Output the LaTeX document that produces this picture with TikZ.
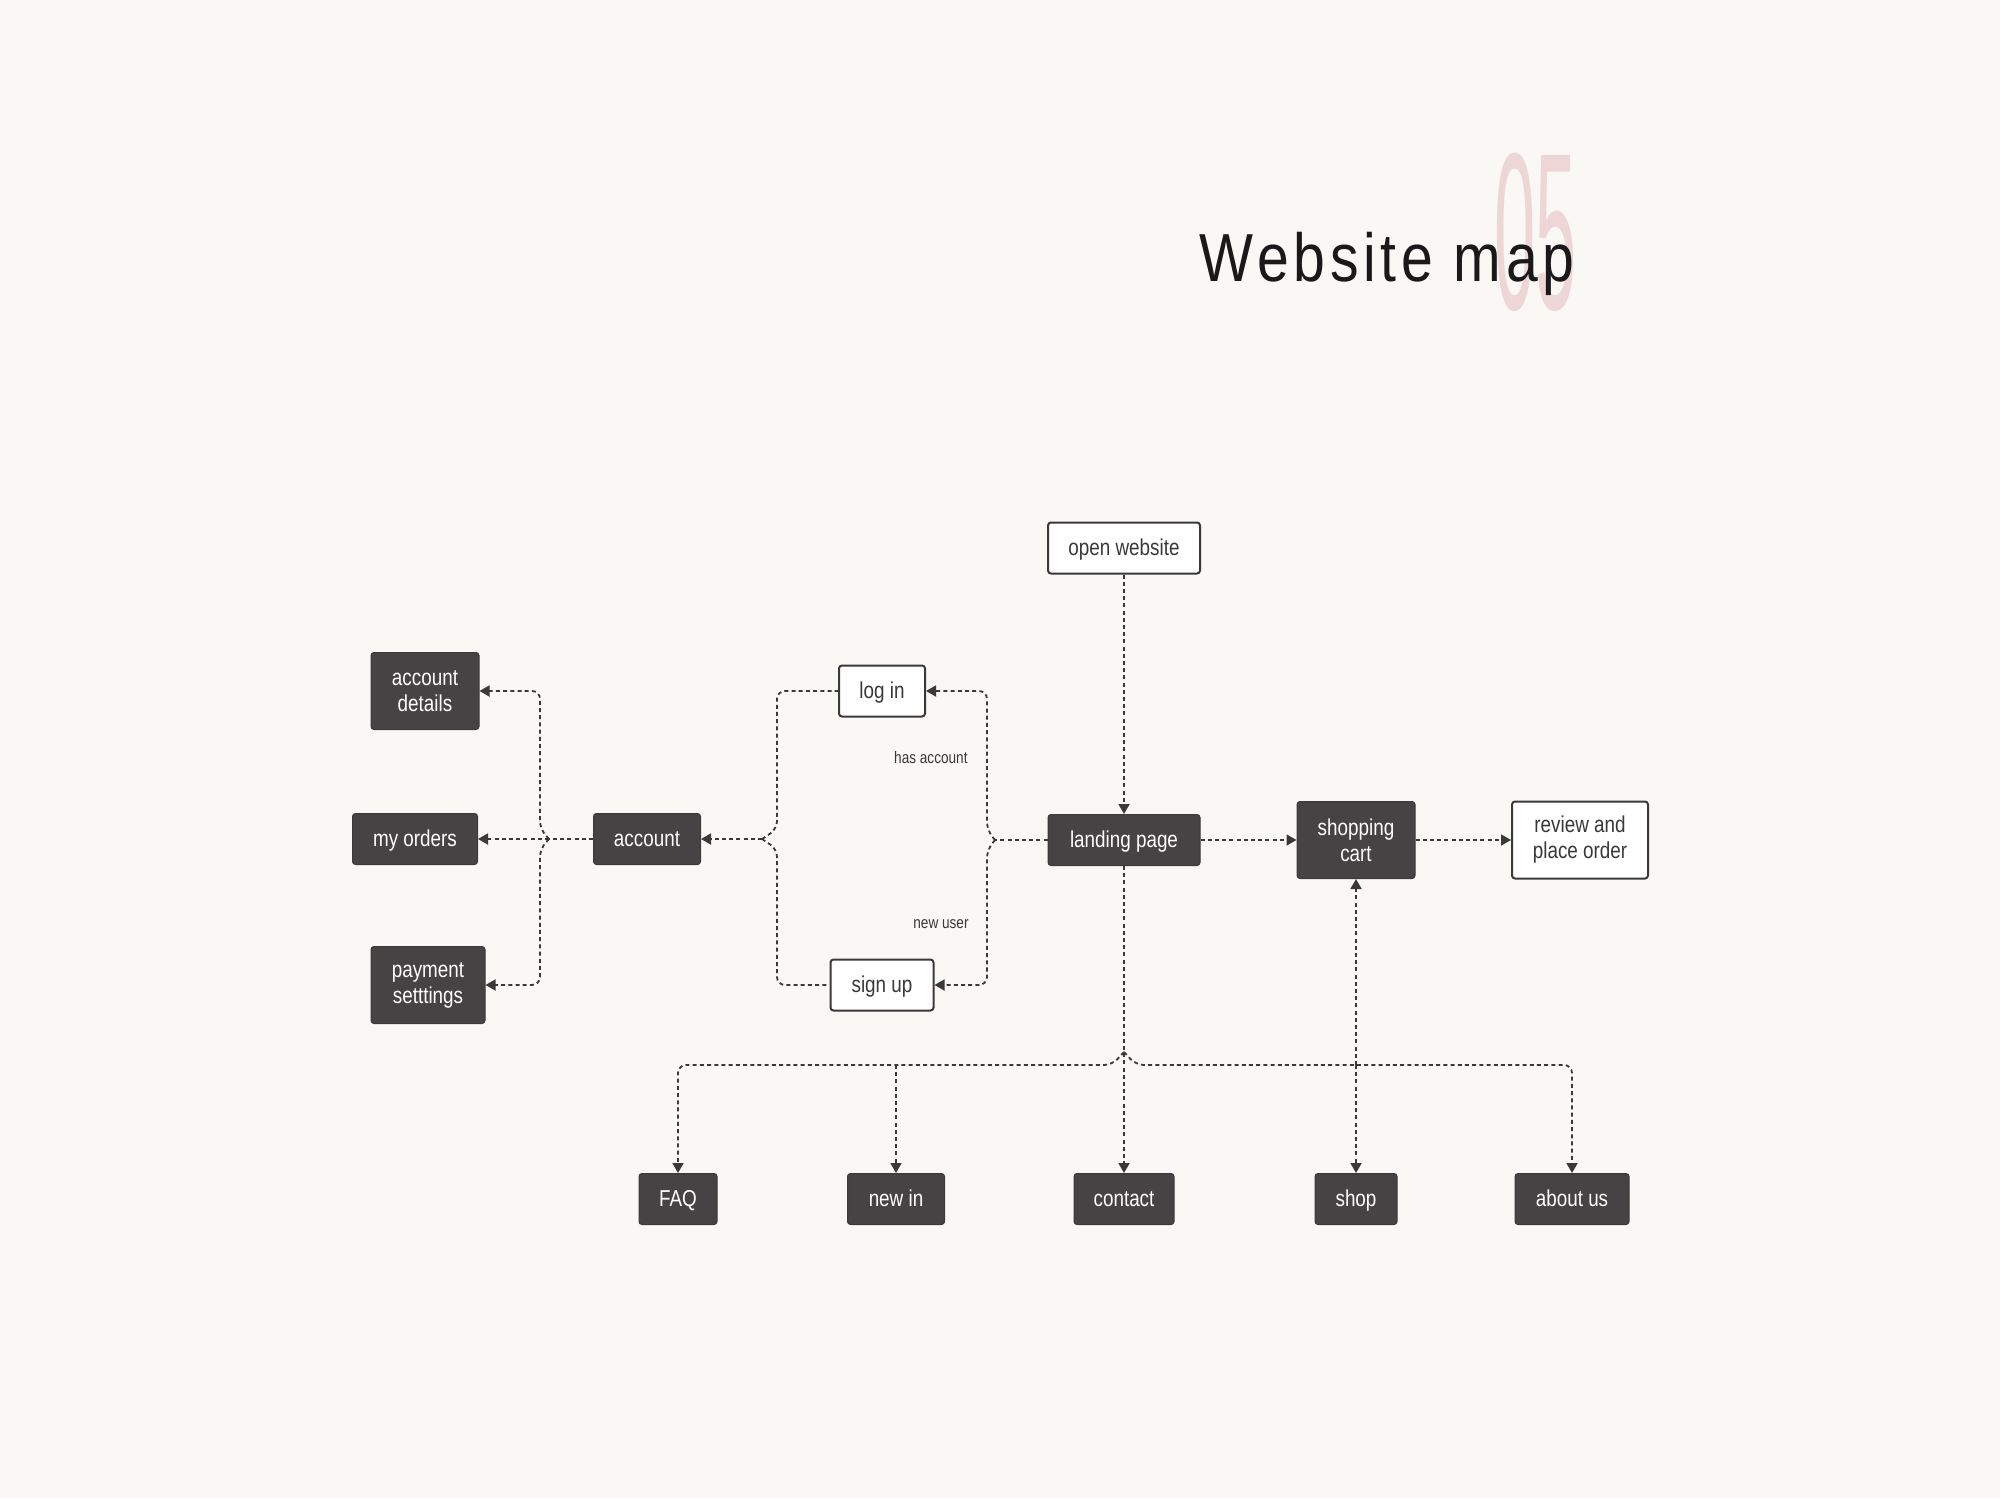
\documentclass[tikz,border=0pt]{standalone}
\usepackage{fontspec}
\usetikzlibrary{positioning}
\usetikzlibrary{arrows.meta,calc}
\newfontfamily\boxfont[FakeStretch=0.82]{Liberation Sans}
\newfontfamily\titlefont[FakeStretch=0.84,LetterSpace=7]{Liberation Sans}
\newfontfamily\numfont[FakeStretch=0.33]{Liberation Sans}
\definecolor{bgcol}{RGB}{250,248,245}
\definecolor{boxcol}{RGB}{69,67,67}
\definecolor{linecol}{RGB}{58,56,56}
\definecolor{pinkcol}{RGB}{238,214,215}

\begin{document}
\begin{tikzpicture}[x=0.5pt,y=-0.5pt,
  dark/.style={rectangle, rounded corners=1.5pt, fill=boxcol, draw=boxcol!85!black, line width=0.5pt, text=white, font=\boxfont\fontsize{11.5}{13}\selectfont, align=center, minimum height=25.5pt, inner sep=0pt},
  light/.style={dark, fill=white, draw=linecol, line width=1pt, text=linecol},
  single/.style={text height=9.5pt, text depth=2pt},
  link/.style={draw=linecol, line width=0.9pt, dash pattern=on 2pt off 1.6pt},
  hint/.style={font=\boxfont\fontsize{8.3}{9}\selectfont, text=linecol, anchor=east, inner sep=0pt},
  >={Triangle[length=5pt,width=5.5pt]}]
\useasboundingbox (0,0) rectangle (2000,1498);
\fill[bgcol] (0,0) rectangle (2000,1498);
\node[font=\numfont\fontsize{112}{112}\selectfont, text=pinkcol, anchor=base east, inner sep=0pt] (num) at (1577,309) {05};
\node[font=\titlefont\fontsize{34}{40}\selectfont, text=black!90, anchor=base west, inner sep=0pt] (title) at (1199,281) {Website map};
\node[light, single, minimum width=76pt] (openw) at (1124,548) {open website};
\node[dark, single, minimum width=76pt] (landing) at (1124,840) {landing page};
\node[light, single, minimum width=43pt] (login) at (882,691) {log in};
\node[light, single, minimum width=51.5pt] (signup) at (882,985) {sign up};
\node[dark, single, minimum width=53.5pt] (account) at (647,839) {account};
\node[dark, single, minimum width=62.5pt] (orders) at (415,839) {my orders};
\node[dark, minimum width=54pt, minimum height=38.5pt] (details) at (425,691) {account\\details};
\node[dark, minimum width=57pt, minimum height=38.5pt] (payment) at (428,985) {payment\\setttings};
\node[dark, minimum width=59pt, minimum height=38.5pt] (cart) at (1356,840) {shopping\\cart};
\node[light, minimum width=68pt, minimum height=38.5pt] (review) at (1580,840) {review and\\place order};
\node[dark, single, minimum width=39pt] (faq) at (678,1199) {FAQ};
\node[dark, single, minimum width=48.5pt] (newin) at (896,1199) {new in};
\node[dark, single, minimum width=50pt] (contact) at (1124,1199) {contact};
\node[dark, single, minimum width=41pt] (shop) at (1356,1199) {shop};
\node[dark, single, minimum width=57pt] (about) at (1572,1199) {about us};
\node[hint] (has) at (968,758) {has account};
\node[hint] (new) at (969,924) {new user};
\coordinate (rtip) at (995,840);
\coordinate (mtip) at (762,839);
\coordinate (ltip) at (549,839);
\coordinate (btip) at (1124,1052);
\coordinate (bar) at (1124,1065);
\draw[link,->] (openw) -- (landing);
\draw[link,->] (landing) -- (cart);
\draw[link,->] (cart) -- (review);
\draw[link] (landing.west) -- (rtip);
\draw[link,->,rounded corners=4pt] (rtip) -- ++(-8,-10) |- (login.east);
\draw[link,->,rounded corners=4pt] (rtip) -- ++(-8,10) |- (signup.east);
\draw[link,rounded corners=4pt] (mtip) -- ++(15,-10) |- (login.west);
\draw[link,rounded corners=4pt] (mtip) -- ++(15,10) |- (signup.west);
\draw[link,->] (mtip) -- (account);
\draw[link] (account) -- (ltip);
\draw[link,->] (ltip) -- (orders);
\draw[link,->,rounded corners=4pt] (ltip) -- ++(-9,-10) |- (details.east);
\draw[link,->,rounded corners=4pt] (ltip) -- ++(-9,10) |- (payment.east);
\draw[link,->] (landing) -- (contact);
\draw[link,->,rounded corners=4pt] (btip) -- ++(-12,13) -| (faq.north);
\draw[link,->,rounded corners=4pt] (btip) -- ++(12,13) -| (about.north);
\draw[link,->] (bar -| newin) -- (newin);
\draw[link,->] (bar -| shop) -- (shop);
\draw[link,->] (bar -| shop) -- (cart);
\end{tikzpicture}
\end{document}
